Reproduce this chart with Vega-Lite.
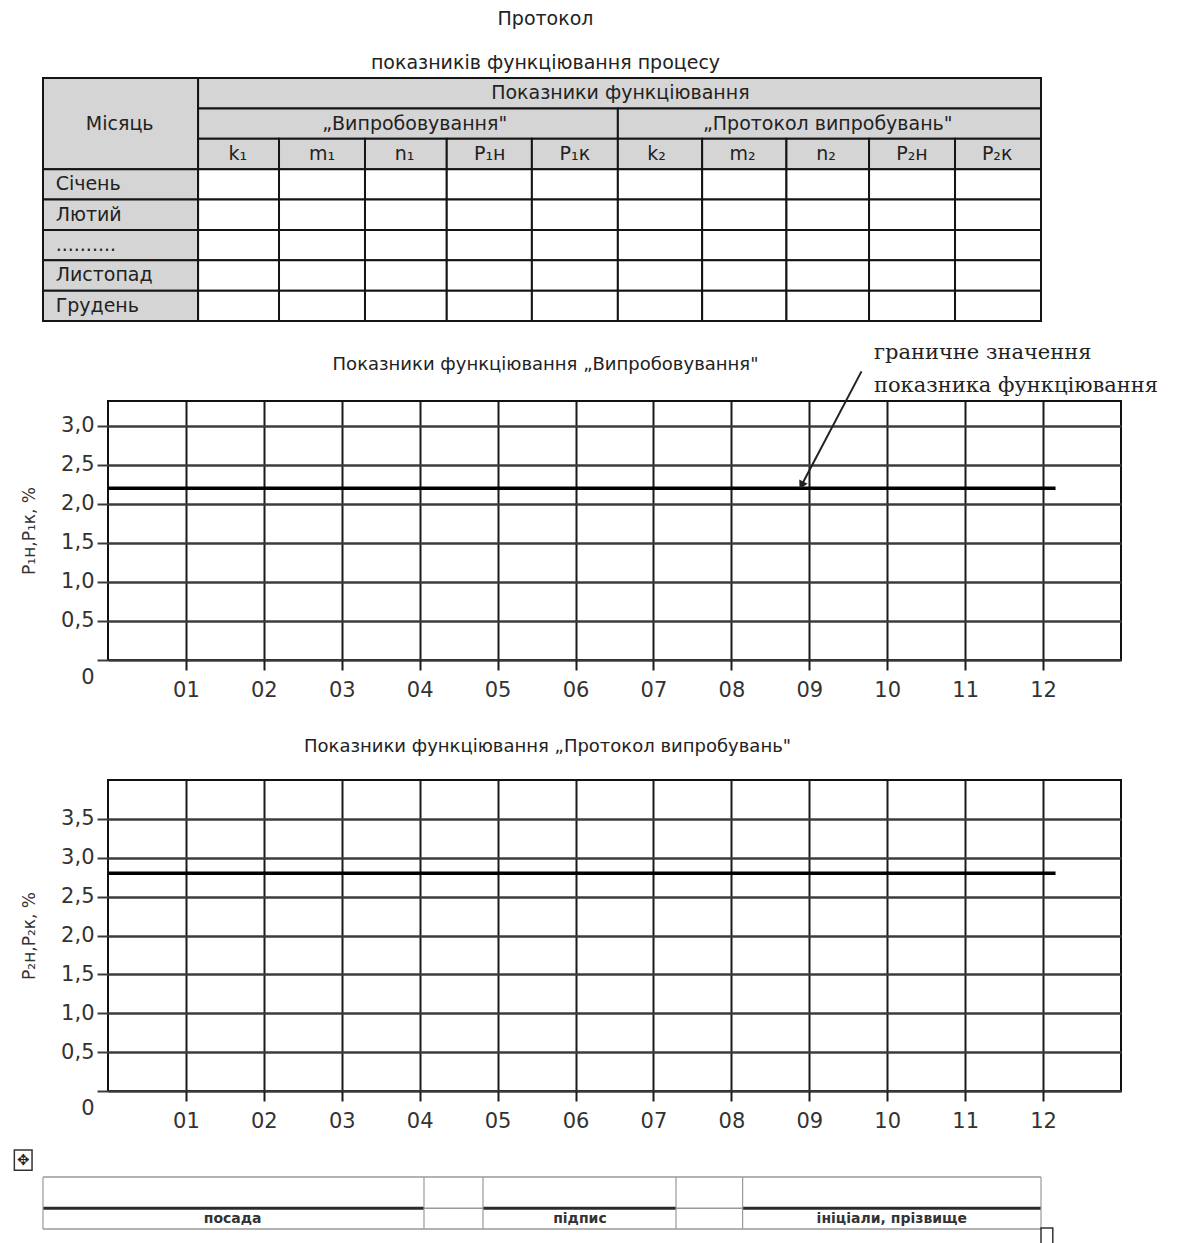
{
  "$schema": "https://vega.github.io/schema/vega-lite/v6.json",
  "background": "white",
  "padding": {"left": 13, "top": 10, "right": 5, "bottom": 0},
  "config": {"view": {"stroke": null}, "font": "DejaVu Sans"},
  "datasets": {
    "cells": [
      {"x0": 0, "x1": 1.84, "r0": 0, "r1": 3, "k": "h"},
      {"x0": 1.84, "x1": 11.84, "r0": 0, "r1": 1, "k": "h"},
      {"x0": 1.84, "x1": 6.82, "r0": 1, "r1": 2, "k": "h"},
      {"x0": 6.82, "x1": 11.84, "r0": 1, "r1": 2, "k": "h"},
      {"x0": 1.84, "x1": 2.80, "r0": 2, "r1": 3, "k": "h"},
      {"x0": 2.80, "x1": 3.82, "r0": 2, "r1": 3, "k": "h"},
      {"x0": 3.82, "x1": 4.79, "r0": 2, "r1": 3, "k": "h"},
      {"x0": 4.79, "x1": 5.80, "r0": 2, "r1": 3, "k": "h"},
      {"x0": 5.80, "x1": 6.82, "r0": 2, "r1": 3, "k": "h"},
      {"x0": 6.82, "x1": 7.82, "r0": 2, "r1": 3, "k": "h"},
      {"x0": 7.82, "x1": 8.82, "r0": 2, "r1": 3, "k": "h"},
      {"x0": 8.82, "x1": 9.80, "r0": 2, "r1": 3, "k": "h"},
      {"x0": 9.80, "x1": 10.82, "r0": 2, "r1": 3, "k": "h"},
      {"x0": 10.82, "x1": 11.84, "r0": 2, "r1": 3, "k": "h"},
      {"x0": 0, "x1": 1.84, "r0": 3, "r1": 4, "k": "h"},
      {"x0": 0, "x1": 1.84, "r0": 4, "r1": 5, "k": "h"},
      {"x0": 0, "x1": 1.84, "r0": 5, "r1": 6, "k": "h"},
      {"x0": 0, "x1": 1.84, "r0": 6, "r1": 7, "k": "h"},
      {"x0": 0, "x1": 1.84, "r0": 7, "r1": 8, "k": "h"},
      {"x0": 1.84, "x1": 2.80, "r0": 3, "r1": 4, "k": "b"},
      {"x0": 2.80, "x1": 3.82, "r0": 3, "r1": 4, "k": "b"},
      {"x0": 3.82, "x1": 4.79, "r0": 3, "r1": 4, "k": "b"},
      {"x0": 4.79, "x1": 5.80, "r0": 3, "r1": 4, "k": "b"},
      {"x0": 5.80, "x1": 6.82, "r0": 3, "r1": 4, "k": "b"},
      {"x0": 6.82, "x1": 7.82, "r0": 3, "r1": 4, "k": "b"},
      {"x0": 7.82, "x1": 8.82, "r0": 3, "r1": 4, "k": "b"},
      {"x0": 8.82, "x1": 9.80, "r0": 3, "r1": 4, "k": "b"},
      {"x0": 9.80, "x1": 10.82, "r0": 3, "r1": 4, "k": "b"},
      {"x0": 10.82, "x1": 11.84, "r0": 3, "r1": 4, "k": "b"},
      {"x0": 1.84, "x1": 2.80, "r0": 4, "r1": 5, "k": "b"},
      {"x0": 2.80, "x1": 3.82, "r0": 4, "r1": 5, "k": "b"},
      {"x0": 3.82, "x1": 4.79, "r0": 4, "r1": 5, "k": "b"},
      {"x0": 4.79, "x1": 5.80, "r0": 4, "r1": 5, "k": "b"},
      {"x0": 5.80, "x1": 6.82, "r0": 4, "r1": 5, "k": "b"},
      {"x0": 6.82, "x1": 7.82, "r0": 4, "r1": 5, "k": "b"},
      {"x0": 7.82, "x1": 8.82, "r0": 4, "r1": 5, "k": "b"},
      {"x0": 8.82, "x1": 9.80, "r0": 4, "r1": 5, "k": "b"},
      {"x0": 9.80, "x1": 10.82, "r0": 4, "r1": 5, "k": "b"},
      {"x0": 10.82, "x1": 11.84, "r0": 4, "r1": 5, "k": "b"},
      {"x0": 1.84, "x1": 2.80, "r0": 5, "r1": 6, "k": "b"},
      {"x0": 2.80, "x1": 3.82, "r0": 5, "r1": 6, "k": "b"},
      {"x0": 3.82, "x1": 4.79, "r0": 5, "r1": 6, "k": "b"},
      {"x0": 4.79, "x1": 5.80, "r0": 5, "r1": 6, "k": "b"},
      {"x0": 5.80, "x1": 6.82, "r0": 5, "r1": 6, "k": "b"},
      {"x0": 6.82, "x1": 7.82, "r0": 5, "r1": 6, "k": "b"},
      {"x0": 7.82, "x1": 8.82, "r0": 5, "r1": 6, "k": "b"},
      {"x0": 8.82, "x1": 9.80, "r0": 5, "r1": 6, "k": "b"},
      {"x0": 9.80, "x1": 10.82, "r0": 5, "r1": 6, "k": "b"},
      {"x0": 10.82, "x1": 11.84, "r0": 5, "r1": 6, "k": "b"},
      {"x0": 1.84, "x1": 2.80, "r0": 6, "r1": 7, "k": "b"},
      {"x0": 2.80, "x1": 3.82, "r0": 6, "r1": 7, "k": "b"},
      {"x0": 3.82, "x1": 4.79, "r0": 6, "r1": 7, "k": "b"},
      {"x0": 4.79, "x1": 5.80, "r0": 6, "r1": 7, "k": "b"},
      {"x0": 5.80, "x1": 6.82, "r0": 6, "r1": 7, "k": "b"},
      {"x0": 6.82, "x1": 7.82, "r0": 6, "r1": 7, "k": "b"},
      {"x0": 7.82, "x1": 8.82, "r0": 6, "r1": 7, "k": "b"},
      {"x0": 8.82, "x1": 9.80, "r0": 6, "r1": 7, "k": "b"},
      {"x0": 9.80, "x1": 10.82, "r0": 6, "r1": 7, "k": "b"},
      {"x0": 10.82, "x1": 11.84, "r0": 6, "r1": 7, "k": "b"},
      {"x0": 1.84, "x1": 2.80, "r0": 7, "r1": 8, "k": "b"},
      {"x0": 2.80, "x1": 3.82, "r0": 7, "r1": 8, "k": "b"},
      {"x0": 3.82, "x1": 4.79, "r0": 7, "r1": 8, "k": "b"},
      {"x0": 4.79, "x1": 5.80, "r0": 7, "r1": 8, "k": "b"},
      {"x0": 5.80, "x1": 6.82, "r0": 7, "r1": 8, "k": "b"},
      {"x0": 6.82, "x1": 7.82, "r0": 7, "r1": 8, "k": "b"},
      {"x0": 7.82, "x1": 8.82, "r0": 7, "r1": 8, "k": "b"},
      {"x0": 8.82, "x1": 9.80, "r0": 7, "r1": 8, "k": "b"},
      {"x0": 9.80, "x1": 10.82, "r0": 7, "r1": 8, "k": "b"},
      {"x0": 10.82, "x1": 11.84, "r0": 7, "r1": 8, "k": "b"}
    ],
    "tlabels": [
      {"t": "Місяць", "xc": 0.91, "yc": 1.5, "a": "c"},
      {"t": "Показники функціювання", "xc": 6.85, "yc": 0.5, "a": "c"},
      {"t": "„Випробовування\"", "xc": 4.41, "yc": 1.5, "a": "c"},
      {"t": "„Протокол випробувань\"", "xc": 9.31, "yc": 1.5, "a": "c"},
      {"t": "k₁", "xc": 2.31, "yc": 2.5, "a": "c"},
      {"t": "m₁", "xc": 3.31, "yc": 2.5, "a": "c"},
      {"t": "n₁", "xc": 4.29, "yc": 2.5, "a": "c"},
      {"t": "P₁н", "xc": 5.30, "yc": 2.5, "a": "c"},
      {"t": "P₁к", "xc": 6.31, "yc": 2.5, "a": "c"},
      {"t": "k₂", "xc": 7.28, "yc": 2.5, "a": "c"},
      {"t": "m₂", "xc": 8.30, "yc": 2.5, "a": "c"},
      {"t": "n₂", "xc": 9.29, "yc": 2.5, "a": "c"},
      {"t": "P₂н", "xc": 10.31, "yc": 2.5, "a": "c"},
      {"t": "P₂к", "xc": 11.32, "yc": 2.5, "a": "c"},
      {"t": "Січень", "xc": 0.15, "yc": 3.5, "a": "l"},
      {"t": "Лютий", "xc": 0.15, "yc": 4.5, "a": "l"},
      {"t": "..........", "xc": 0.15, "yc": 5.5, "a": "l"},
      {"t": "Листопад", "xc": 0.15, "yc": 6.5, "a": "l"},
      {"t": "Грудень", "xc": 0.15, "yc": 7.5, "a": "l"}
    ],
    "limit1": [{"month": 0, "month2": 12.16, "value": 2.2}],
    "limit2": [{"month": 0, "month2": 12.16, "value": 2.8}],
    "arrow1": [{"month": 9.67, "value": 3.7, "month2": 8.9, "value2": 2.24}],
    "head1": [{"month": 8.9, "value": 2.24}],
    "note1": [
      {"text": "граничне значення", "month": 9.83, "value": 3.94},
      {"text": "показника функціювання", "month": 9.83, "value": 3.51}
    ],
    "sigH": [
      {"x0": 0, "x1": 11.84, "y": 0, "k": "thin"},
      {"x0": 0, "x1": 4.52, "y": 0.6, "k": "thick"},
      {"x0": 4.52, "x1": 5.22, "y": 0.6, "k": "thin"},
      {"x0": 5.22, "x1": 7.51, "y": 0.6, "k": "thick"},
      {"x0": 7.51, "x1": 8.30, "y": 0.6, "k": "thin"},
      {"x0": 8.30, "x1": 11.84, "y": 0.6, "k": "thick"},
      {"x0": 0, "x1": 11.84, "y": 1, "k": "thin"}
    ],
    "sigV": [
      {"x0": 0, "y0": 0, "y1": 1},
      {"x0": 4.52, "y0": 0, "y1": 1},
      {"x0": 5.22, "y0": 0, "y1": 1},
      {"x0": 7.51, "y0": 0, "y1": 1},
      {"x0": 8.30, "y0": 0, "y1": 1},
      {"x0": 11.84, "y0": 0, "y1": 1}
    ],
    "sigT": [
      {"t": "посада", "xc": 2.25, "yc": 0.8},
      {"t": "підпис", "xc": 6.37, "yc": 0.8},
      {"t": "ініціали, прізвище", "xc": 10.07, "yc": 0.8}
    ],
    "icons": [
      {"x0": -0.34, "x1": -0.13, "y0": -0.52, "y1": -0.13, "g": "✥", "xc": -0.235, "yc": -0.325},
      {"x0": 11.84, "x1": 11.98, "y0": 0.98, "y1": 1.3, "g": "", "xc": 11.91, "yc": 1.14}
    ]
  },
  "spacing": 18,
  "vconcat": [
    {
      "width": 933,
      "height": 243,
      "title": {
        "text": "Протокол",
        "subtitle": "показників функціювання процесу",
        "font": "DejaVu Sans",
        "subtitleFont": "DejaVu Sans",
        "fontSize": 19,
        "subtitleFontSize": 19,
        "fontWeight": "normal",
        "color": "#222",
        "subtitleColor": "#222",
        "subtitlePadding": 25,
        "offset": 4,
        "anchor": "middle",
        "frame": "group",
        "dx": -29
      },
      "layer": [
        {
          "data": {"name": "cells"},
          "mark": {"type": "rect", "stroke": "#151515", "strokeWidth": 2},
          "encoding": {
            "x": {"field": "x0", "type": "quantitative", "scale": {"domain": [0, 11.84], "range": [-65, 933], "nice": false, "zero": false}, "axis": null},
            "x2": {"field": "x1"},
            "y": {"field": "r0", "type": "quantitative", "scale": {"domain": [0, 8], "reverse": true, "nice": false}, "axis": null},
            "y2": {"field": "r1"},
            "fill": {"field": "k", "type": "nominal", "scale": {"domain": ["h", "b"], "range": ["#d5d5d5", "#ffffff"]}, "legend": null}
          }
        },
        {
          "data": {"name": "tlabels"},
          "transform": [{"filter": "datum.a === 'c'"}],
          "mark": {"type": "text", "align": "center", "baseline": "middle", "font": "DejaVu Sans", "fontSize": 19, "color": "#222"},
          "encoding": {
            "x": {"field": "xc", "type": "quantitative"},
            "y": {"field": "yc", "type": "quantitative"},
            "text": {"field": "t"}
          }
        },
        {
          "data": {"name": "tlabels"},
          "transform": [{"filter": "datum.a === 'l'"}],
          "mark": {"type": "text", "align": "left", "baseline": "middle", "font": "DejaVu Sans", "fontSize": 19, "color": "#222"},
          "encoding": {
            "x": {"field": "xc", "type": "quantitative"},
            "y": {"field": "yc", "type": "quantitative"},
            "text": {"field": "t"}
          }
        }
      ]
    },
    {
      "spacing": 36,
      "vconcat": [
        {
          "width": 1013,
          "height": 259,
          "view": {"stroke": "#111", "strokeWidth": 2},
          "title": {
            "text": "Показники функціювання „Випробовування\"",
            "font": "DejaVu Sans",
            "fontSize": 18,
            "fontWeight": "normal",
            "color": "#222",
            "offset": -32,
            "anchor": "middle",
            "frame": "group",
            "dx": -69
          },
          "encoding": {
            "x": {
              "field": "month", "type": "quantitative",
              "scale": {"domain": [0, 13], "nice": false, "zero": false},
              "axis": {
                "values": [1, 2, 3, 4, 5, 6, 7, 8, 9, 10, 11, 12],
                "grid": true, "gridColor": "#1a1a1a", "gridWidth": 2,
                "domain": false, "ticks": true, "tickSize": 10, "tickWidth": 2, "tickColor": "#1a1a1a",
                "labelExpr": "datum.value < 10 ? '0' + datum.value : '' + datum.value",
                "labelFont": "DejaVu Sans", "labelFontSize": 21, "labelColor": "#333", "labelPadding": 9,
                "labelFlush": false, "title": null
              }
            },
            "y": {
              "field": "value", "type": "quantitative",
              "scale": {"domain": [0, 3.32], "nice": false},
              "axis": {
                "values": [0, 0.5, 1, 1.5, 2, 2.5, 3],
                "grid": true, "gridColor": "#3c3c3c", "gridWidth": 2.5,
                "domain": false, "ticks": true, "tickSize": 11, "tickWidth": 2, "tickColor": "#3c3c3c",
                "labelExpr": "datum.value === 0 ? '0' : replace(format(datum.value, '.1f'), '.', ',')",
                "labelOffset": {"condition": {"test": "datum.value === 0", "value": 17}, "value": 0},
                "labelFont": "DejaVu Sans", "labelFontSize": 21, "labelColor": "#333", "labelPadding": 3,
                "labelFlush": false,
                "title": "P₁н,P₁к, %", "titleFont": "DejaVu Sans", "titleFontSize": 17, "titleFontWeight": "normal",
                "titleColor": "#333", "titlePadding": 22
              }
            }
          },
          "layer": [
            {
              "data": {"name": "limit1"},
              "mark": {"type": "rule", "color": "#000", "strokeWidth": 3.5},
              "encoding": {"x2": {"field": "month2"}}
            },
            {
              "data": {"name": "arrow1"},
              "mark": {"type": "rule", "color": "#222", "strokeWidth": 2},
              "encoding": {"x2": {"field": "month2"}, "y2": {"field": "value2"}}
            },
            {
              "data": {"name": "head1"},
              "mark": {"type": "point", "shape": "triangle-up", "filled": true, "color": "#222", "opacity": 1, "size": 90, "angle": 207.7}
            },
            {
              "data": {"name": "note1"},
              "mark": {"type": "text", "align": "left", "baseline": "middle", "font": "DejaVu Serif", "fontSize": 21, "color": "#222"},
              "encoding": {"text": {"field": "text"}}
            }
          ]
        },
        {
          "spacing": 17,
          "vconcat": [
            {
              "width": 1013,
              "height": 311,
              "view": {"stroke": "#111", "strokeWidth": 2},
              "title": {
                "text": "Показники функціювання „Протокол випробувань\"",
                "font": "DejaVu Sans",
                "fontSize": 18,
                "fontWeight": "normal",
                "color": "#222",
                "offset": 24,
                "anchor": "middle",
                "frame": "group",
                "dx": -67
              },
              "encoding": {
                "x": {
                  "field": "month", "type": "quantitative",
                  "scale": {"domain": [0, 13], "nice": false, "zero": false},
                  "axis": {
                    "values": [1, 2, 3, 4, 5, 6, 7, 8, 9, 10, 11, 12],
                    "grid": true, "gridColor": "#1a1a1a", "gridWidth": 2,
                    "domain": false, "ticks": true, "tickSize": 10, "tickWidth": 2, "tickColor": "#1a1a1a",
                    "labelExpr": "datum.value < 10 ? '0' + datum.value : '' + datum.value",
                    "labelFont": "DejaVu Sans", "labelFontSize": 21, "labelColor": "#333", "labelPadding": 9,
                    "labelFlush": false, "title": null
                  }
                },
                "y": {
                  "field": "value", "type": "quantitative",
                  "scale": {"domain": [0, 4.0], "nice": false},
                  "axis": {
                    "values": [0, 0.5, 1, 1.5, 2, 2.5, 3, 3.5],
                    "grid": true, "gridColor": "#3c3c3c", "gridWidth": 2.5,
                    "domain": false, "ticks": true, "tickSize": 11, "tickWidth": 2, "tickColor": "#3c3c3c",
                    "labelExpr": "datum.value === 0 ? '0' : replace(format(datum.value, '.1f'), '.', ',')",
                    "labelOffset": {"condition": {"test": "datum.value === 0", "value": 17}, "value": 0},
                    "labelFont": "DejaVu Sans", "labelFontSize": 21, "labelColor": "#333", "labelPadding": 3,
                    "labelFlush": false,
                    "title": "P₂н,P₂к, %", "titleFont": "DejaVu Sans", "titleFontSize": 17, "titleFontWeight": "normal",
                    "titleColor": "#333", "titlePadding": 22
                  }
                }
              },
              "layer": [
                {
                  "data": {"name": "limit2"},
                  "mark": {"type": "rule", "color": "#000", "strokeWidth": 3.5},
                  "encoding": {"x2": {"field": "month2"}}
                }
              ]
            },
            {
              "width": 933,
              "height": 52,
              "layer": [
                {
                  "data": {"name": "sigH"},
                  "transform": [{"filter": "datum.k === 'thin'"}],
                  "mark": {"type": "rule", "color": "#9a9a9a", "strokeWidth": 1.5},
                  "encoding": {
                    "x": {"field": "x0", "type": "quantitative", "scale": {"domain": [0, 11.84], "range": [-65, 933], "nice": false, "zero": false}, "axis": null},
                    "x2": {"field": "x1"},
                    "y": {"field": "y", "type": "quantitative", "scale": {"domain": [0, 1], "reverse": true, "nice": false}, "axis": null}
                  }
                },
                {
                  "data": {"name": "sigH"},
                  "transform": [{"filter": "datum.k === 'thick'"}],
                  "mark": {"type": "rule", "color": "#2a2a2a", "strokeWidth": 3},
                  "encoding": {
                    "x": {"field": "x0", "type": "quantitative"},
                    "x2": {"field": "x1"},
                    "y": {"field": "y", "type": "quantitative"}
                  }
                },
                {
                  "data": {"name": "sigV"},
                  "mark": {"type": "rule", "color": "#9a9a9a", "strokeWidth": 1.2},
                  "encoding": {
                    "x": {"field": "x0", "type": "quantitative"},
                    "y": {"field": "y0", "type": "quantitative"},
                    "y2": {"field": "y1"}
                  }
                },
                {
                  "data": {"name": "sigT"},
                  "mark": {"type": "text", "align": "center", "baseline": "middle", "font": "DejaVu Sans", "fontSize": 14, "fontWeight": "bold", "color": "#333"},
                  "encoding": {
                    "x": {"field": "xc", "type": "quantitative"},
                    "y": {"field": "yc", "type": "quantitative"},
                    "text": {"field": "t"}
                  }
                },
                {
                  "data": {"name": "icons"},
                  "mark": {"type": "rect", "fill": "white", "stroke": "#333", "strokeWidth": 1.5},
                  "encoding": {
                    "x": {"field": "x0", "type": "quantitative"},
                    "x2": {"field": "x1"},
                    "y": {"field": "y0", "type": "quantitative"},
                    "y2": {"field": "y1"}
                  }
                },
                {
                  "data": {"name": "icons"},
                  "mark": {"type": "text", "align": "center", "baseline": "middle", "font": "DejaVu Sans", "fontSize": 15, "color": "#222"},
                  "encoding": {
                    "x": {"field": "xc", "type": "quantitative"},
                    "y": {"field": "yc", "type": "quantitative"},
                    "text": {"field": "g"}
                  }
                }
              ]
            }
          ]
        }
      ]
    }
  ]
}
